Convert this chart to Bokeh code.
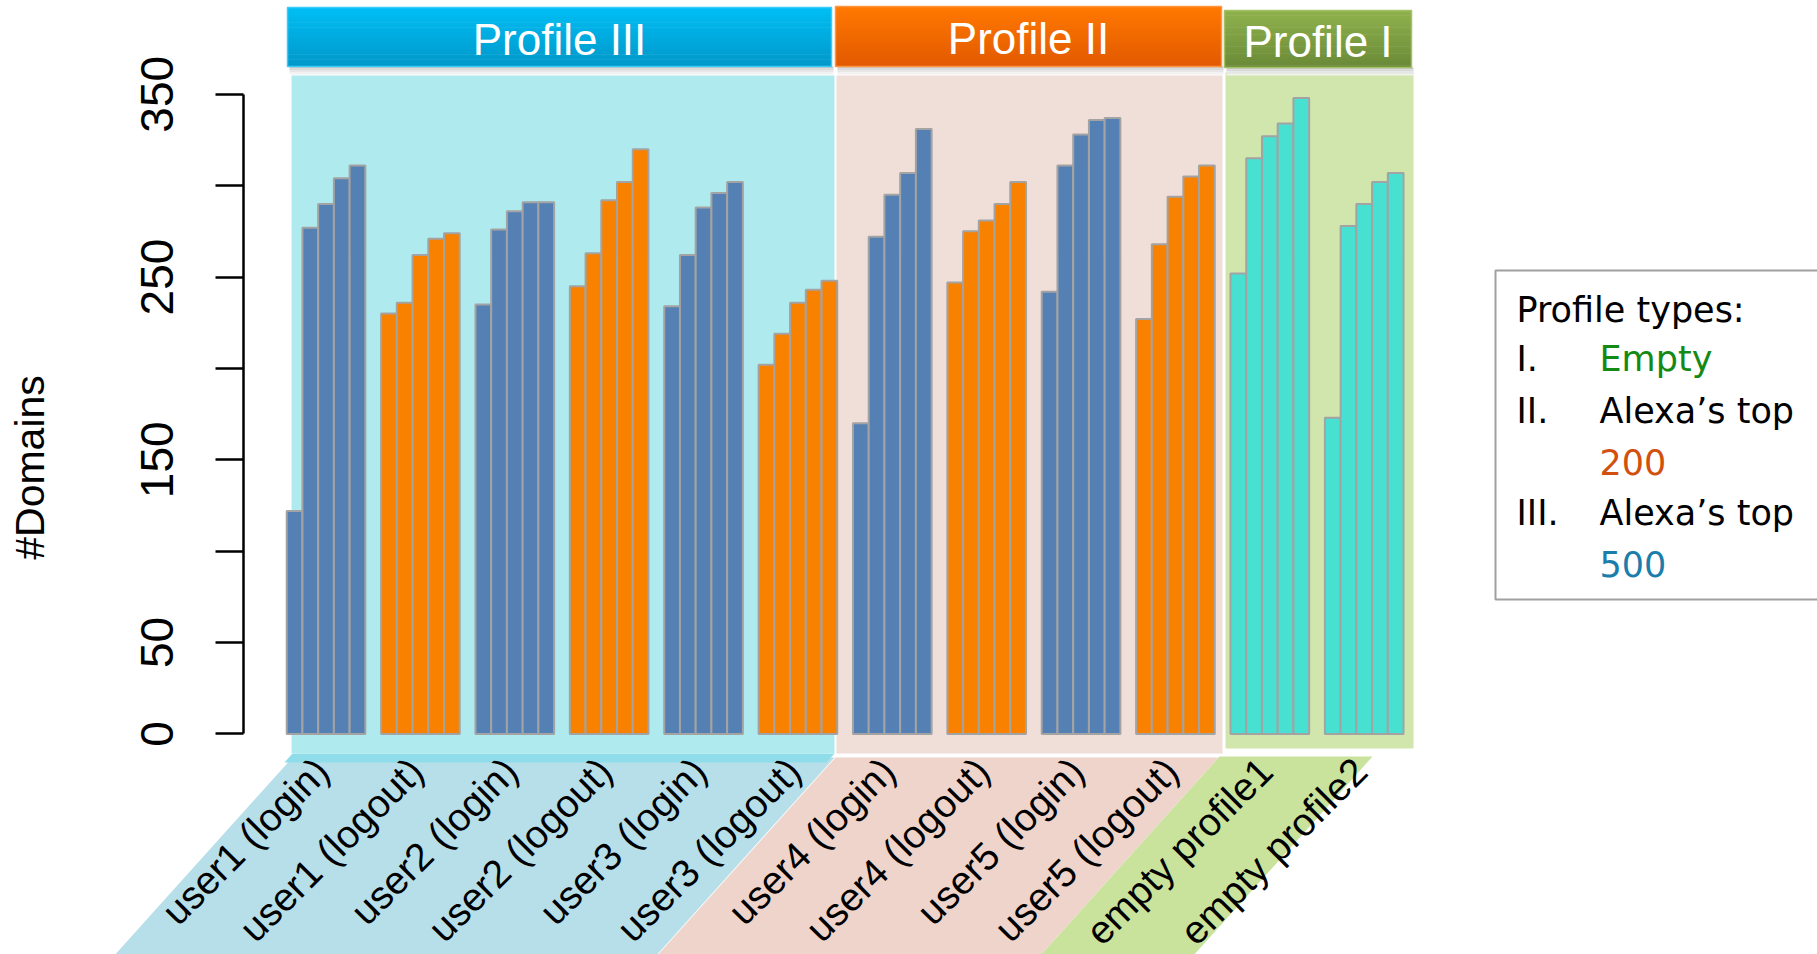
import numpy as np
from bokeh.plotting import figure
from bokeh.models import Range1d, LinearAxis, FixedTicker, Label, PolyAnnotation
from bokeh.embed import file_html
from bokeh.resources import INLINE

# ---------------- data ----------------
group_labels = ["user1 (login)", "user1 (logout)", "user2 (login)", "user2 (logout)",
                "user3 (login)", "user3 (logout)", "user4 (login)", "user4 (logout)",
                "user5 (login)", "user5 (logout)", "empty profile1", "empty profile2"]
group_kind = ["login", "logout", "login", "logout", "login", "logout",
              "login", "logout", "login", "logout", "empty", "empty"]
user1_login = [122, 277, 290, 304, 311]
user1_logout = [230, 236, 262, 271, 274]
user2_login = [235, 276, 286, 291, 291]
user2_logout = [245, 263, 292, 302, 320]
user3_login = [234, 262, 288, 296, 302]
user3_logout = [202, 219, 236, 243, 248]
user4_login = [170, 272, 295, 307, 331]
user4_logout = [247, 275, 281, 290, 302]
user5_login = [242, 311, 328, 336, 337]
user5_logout = [227, 268, 294, 305, 311]
empty_profile1 = [252, 315, 327, 334, 348]
empty_profile2 = [173, 278, 290, 302, 307]
group_values = [user1_login, user1_logout, user2_login, user2_logout, user3_login,
                user3_logout, user4_login, user4_logout, user5_login, user5_logout,
                empty_profile1, empty_profile2]

profile_names = ["Profile III", "Profile II", "Profile I"]

y_ticks = [0, 50, 100, 150, 200, 250, 300, 350]
y_tick_hidden = [100, 200, 300]
y_label = "#Domains"

legend_title = "Profile types:"
legend_numerals = ["I.", "II.", "", "III.", ""]
legend_texts = ["Empty", "Alexa’s top", "200", "Alexa’s top", "500"]
legend_colors = ["#148A14", "black", "#D2500E", "black", "#1A7DAA"]

kind_color = {"login": "#5480B4", "logout": "#F98100", "empty": "#48E0D0"}

# ---------------- geometry (pixels -> data) ----------------
W, H = 1817, 954
AXIS_X_PX = 243
Y0_PX, PX_PER_UNIT = 733.4, 1.8274
X0_PX, SLOT_PX = 286.2, 15.73
BARS_PER_GROUP = 5
GROUP_SLOTS = 6


def X(px):
    return (px - X0_PX) / SLOT_PX


def Y(py):
    return (Y0_PX - py) / PX_PER_UNIT


p = figure(width=W, height=H, output_backend="svg", toolbar_location=None,
           x_range=Range1d(X(0), X(W)), y_range=Range1d(Y(H), Y(0)),
           x_axis_location=None, y_axis_location=None, min_border=0)
p.outline_line_color = None
p.grid.visible = False
p.background_fill_color = "white"
p.border_fill_color = "white"


# ---------------- y axis ----------------
def make_axis(bounds, label, visible_marks, label_standoff):
    ax = LinearAxis(bounds=bounds, ticker=FixedTicker(ticks=y_ticks),
                    major_label_overrides={t: "" for t in y_tick_hidden},
                    axis_label=label, fixed_location=X(AXIS_X_PX))
    ax.major_label_orientation = "vertical"
    ax.major_tick_out = 28
    ax.major_tick_in = 0
    ax.minor_tick_line_color = None
    ax.axis_line_width = 2.5
    ax.major_tick_line_width = 2.5
    ax.axis_line_color = "black" if visible_marks else None
    ax.major_tick_line_color = "black" if visible_marks else None
    ax.major_label_text_font = "Liberation Sans"
    ax.major_label_text_font_size = "46px"
    ax.major_label_text_color = "black"
    ax.major_label_text_alpha = 1.0 if visible_marks else 0.0
    ax.major_label_standoff = 42
    ax.axis_label_text_font = "Liberation Sans"
    ax.axis_label_text_font_size = "41px"
    ax.axis_label_text_font_style = "normal"
    ax.axis_label_text_color = "black"
    ax.axis_label_standoff = label_standoff
    p.add_layout(ax, "left")
    return ax


# visible axis: line, ticks and tick labels over 0..350
make_axis((0, 350), None, True, 87)
# axis carrying only the title, centred where the original title sits
LABEL_CENTER = Y(467)
make_axis((2 * LABEL_CENTER - 350, 350), y_label, False, 163)

# ---------------- panel backgrounds ----------------
panel_px = [(291, 834, 75, 753, "#AFEBEE"),
            (836, 1222, 75, 753, "#F0DED8"),
            (1225, 1413, 72, 748, "#D1E6AD")]
p.quad(left=[X(a[0]) for a in panel_px], right=[X(a[1]) for a in panel_px],
       top=[Y(a[2]) for a in panel_px], bottom=[Y(a[3]) for a in panel_px],
       fill_color=[a[4] for a in panel_px], line_color=None)

# slanted label areas
SLANT = 0.9


def para(x_top_l, x_top_r, y_top, y_bot, color):
    d = SLANT * (y_bot - y_top)
    xs = [X(x_top_l), X(x_top_r), X(x_top_r - d), X(x_top_l - d)]
    ys = [Y(y_top), Y(y_top), Y(y_bot), Y(y_bot)]
    p.add_layout(PolyAnnotation(xs=xs, ys=ys, fill_color=color, fill_alpha=1.0,
                                line_color=None, level="underlay"))


para(292, 834, 757, 960, "#B7DFE9")
para(292, 834, 753, 762, "#8FDDEA")
para(835, 1218, 757, 960, "#EED4CA")
para(1219, 1372, 756, 960, "#C9E39D")

# ---------------- header banners ----------------
banner_px = [(287, 831, 7, 66, "#00BEF4", "#0098CA", "#3CCBF5"),
             (835, 1221, 6, 66, "#FF7800", "#E25A00", "#FF9640"),
             (1224, 1411, 10, 67, "#8FB14C", "#6B8A38", "#A3C265")]


def hex2rgb(h):
    return np.array([int(h[i:i + 2], 16) for i in (1, 3, 5)], dtype=float)


N = 24
for (l, r, t, b, c0, c1, cb), name in zip(banner_px, profile_names):
    for j, sc in enumerate(["#C9C9C9", "#D8D8D8", "#E6E6E6", "#F2F2F2"]):
        p.quad(left=X(l + 2), right=X(r + 2), top=Y(b + j * 2), bottom=Y(b + j * 2 + 2),
               fill_color=sc, line_color=None)
    h = (b - t) / N
    lefts, rights, tops, bots, cols = [], [], [], [], []
    for i in range(N):
        f = i / (N - 1)
        rgb = (1 - f) * hex2rgb(c0) + f * hex2rgb(c1)
        cols.append("#%02x%02x%02x" % tuple(int(round(v)) for v in rgb))
        lefts.append(X(l)); rights.append(X(r))
        tops.append(Y(t + i * h)); bots.append(Y(t + (i + 1) * h + 0.6))
    p.quad(left=lefts, right=rights, top=tops, bottom=bots, fill_color=cols, line_color=None)
    p.quad(left=X(l), right=X(r), top=Y(t), bottom=Y(b), fill_color=None,
           line_color=cb, line_width=1.5)
    p.add_layout(Label(x=X((l + r) / 2), y=Y((t + b) / 2 + 2), text=name,
                       text_align="center", text_baseline="middle",
                       text_color="white", text_font="Liberation Sans",
                       text_font_size="44px"))

# ---------------- bars ----------------
xs, tops, colors = [], [], []
for g, (vals, kind) in enumerate(zip(group_values, group_kind)):
    for k, v in enumerate(vals):
        xs.append(g * GROUP_SLOTS + k + 0.5)
        tops.append(v)
        colors.append(kind_color[kind])
p.vbar(x=xs, width=1.0, top=tops, bottom=0, fill_color=colors,
       line_color="#A3A3A3", line_width=2)

# ---------------- category labels ----------------
LABEL_DX_PX = -4
LABEL_Y_PX = 764
for g, name in enumerate(group_labels):
    cx = g * GROUP_SLOTS + BARS_PER_GROUP / 2
    p.add_layout(Label(x=cx + LABEL_DX_PX / SLOT_PX, y=Y(LABEL_Y_PX), text=name,
                       angle=np.pi / 4, text_align="right", text_baseline="middle",
                       text_color="black", text_font="Liberation Sans",
                       text_font_size="39px"))

# ---------------- legend box ----------------
p.quad(left=X(1495), right=X(1840), top=Y(270), bottom=Y(599), fill_color="white",
       line_color="#A0A0A0", line_width=2)
LEG_X1, LEG_X2 = 1516, 1599
LEG_SHIFT = 13
LEG_TITLE_BASE = 322.7
LEG_BASE = [371.7, 423, 474, 525, 576.7]
LEG_FONT = "35px"
p.add_layout(Label(x=X(LEG_X1), y=Y(LEG_TITLE_BASE - LEG_SHIFT), text=legend_title,
                   text_align="left", text_baseline="alphabetic", text_color="black",
                   text_font="DejaVu Sans", text_font_size=LEG_FONT))
for num, txt, col, base in zip(legend_numerals, legend_texts, legend_colors, LEG_BASE):
    if num:
        p.add_layout(Label(x=X(LEG_X1), y=Y(base - LEG_SHIFT), text=num, text_align="left",
                           text_baseline="alphabetic", text_color="black",
                           text_font="DejaVu Sans", text_font_size=LEG_FONT))
    p.add_layout(Label(x=X(LEG_X2), y=Y(base - LEG_SHIFT), text=txt, text_align="left",
                       text_baseline="alphabetic", text_color=col,
                       text_font="DejaVu Sans", text_font_size=LEG_FONT))

open("out.html", "w").write(file_html(p, INLINE))
